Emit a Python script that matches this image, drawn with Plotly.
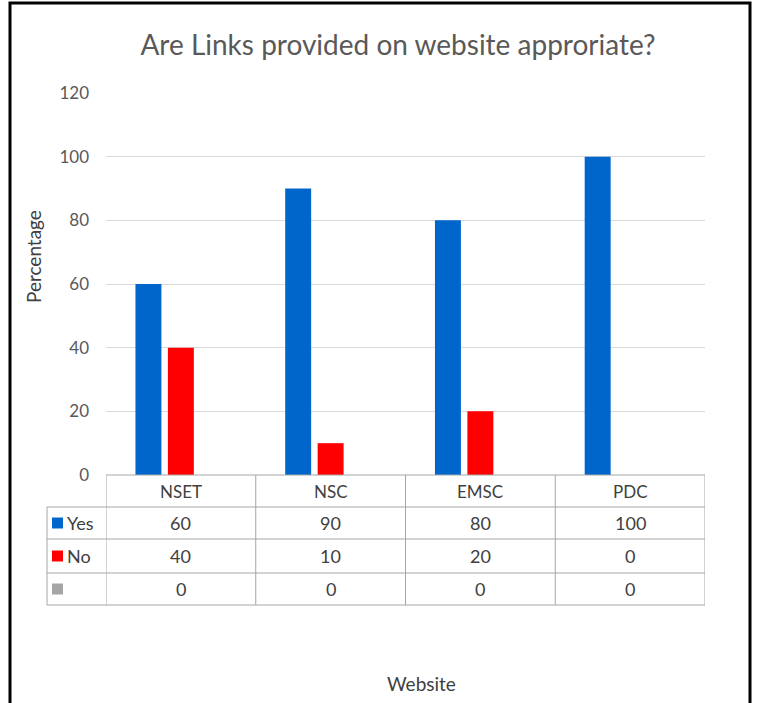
import plotly.graph_objects as go

# Data
websites = ["NSET", "NSC", "EMSC", "PDC"]
yes_pct = [60, 90, 80, 100]
no_pct = [40, 10, 20, 0]
blank_pct = [0, 0, 0, 0]
series_names = ["Yes", "No", ""]
series_colors = ["#0066cc", "#ff0000", "#a5a5a5"]
y_ticks = [0, 20, 40, 60, 80, 100, 120]

W, H = 763, 703
L, R, T, B = 106, 705, 93, 475  # plot area in pixels

def px(x):
    return (x - L) / (R - L)

def py(y):
    return (B - y) / (B - T)

FONT = "Lato"
TXT = "#404040"
GRID = "#d9d9d9"
TBL = "#a6a6a6"

fig = go.Figure()
series = [yes_pct, no_pct, blank_pct]
for name, vals, col in zip(series_names, series, series_colors):
    fig.add_trace(go.Bar(x=websites, y=vals, name=name, marker_color=col,
                         marker_line_width=0, showlegend=False))

shapes = []
annotations = []

# Data table: row boundaries in pixels
row_y = [475, 507, 539, 573, 605]
label_x0 = 47

def hline(y, x0, x1):
    shapes.append(dict(type="line", xref="paper", yref="paper",
                       x0=px(x0), x1=px(x1), y0=py(y), y1=py(y),
                       line=dict(color=TBL, width=1)))

hline(row_y[0], L, R)
for y in row_y[1:]:
    hline(y, label_x0, R)

# Vertical table lines at category boundaries
for i in range(len(websites) + 1):
    shapes.append(dict(type="line", xref="x", yref="paper",
                       x0=i - 0.5, x1=i - 0.5, y0=py(row_y[0]), y1=py(row_y[-1]),
                       line=dict(color=TBL, width=1)))
shapes.append(dict(type="line", xref="paper", yref="paper",
                   x0=px(label_x0), x1=px(label_x0), y0=py(row_y[1]), y1=py(row_y[-1]),
                   line=dict(color=TBL, width=1)))

# Column headers
for i, w in enumerate(websites):
    annotations.append(dict(x=i, y=py((row_y[0] + row_y[1]) / 2), xref="x", yref="paper",
                            xanchor="center", yanchor="middle",
                            text=w, showarrow=False, font=dict(family=FONT, size=17, color=TXT)))

# Rows: legend key, name and values
for r, (name, vals, col) in enumerate(zip(series_names, series, series_colors)):
    yc = (row_y[r + 1] + row_y[r + 2]) / 2
    shapes.append(dict(type="rect", xref="paper", yref="paper",
                       x0=px(52), x1=px(63), y0=py(yc - 5.5), y1=py(yc + 5.5),
                       fillcolor=col, line=dict(width=0)))
    if name:
        annotations.append(dict(x=px(65), y=py(yc), xref="paper", yref="paper",
                                text=name, showarrow=False, xanchor="left", yanchor="middle",
                                font=dict(family=FONT, size=18, color=TXT)))
    for i, v in enumerate(vals):
        annotations.append(dict(x=i, y=py(yc), xref="x", yref="paper",
                                xanchor="center", yanchor="middle",
                                text=str(v), showarrow=False,
                                font=dict(family=FONT, size=18, color=TXT)))

# Axis titles
annotations.append(dict(x=px(33), y=py(257), xref="paper", yref="paper",
                        xanchor="center", yanchor="middle",
                        text="Percentage", showarrow=False, textangle=-90,
                        font=dict(family=FONT, size=19, color=TXT)))
annotations.append(dict(x=px(421), y=py(683), xref="paper", yref="paper",
                        xanchor="center", yanchor="middle",
                        text="Website", showarrow=False,
                        font=dict(family=FONT, size=19, color=TXT)))

# Outer frame
shapes.append(dict(type="rect", xref="paper", yref="paper",
                   x0=px(10), x1=px(750), y0=py(3), y1=py(760),
                   line=dict(color="black", width=3)))

fig.update_layout(
    width=W, height=H,
    margin=dict(l=L, r=W - R, t=T, b=H - B, pad=0),
    paper_bgcolor="white", plot_bgcolor="white",
    title=dict(text="Are Links provided on website approriate?",
               x=398 / W, xanchor="center", y=1 - 45 / H, yanchor="middle",
               font=dict(family=FONT, size=28, color="#595959")),
    barmode="group", bargap=0.35, bargroupgap=0.2,
    xaxis=dict(showticklabels=False, showgrid=False, zeroline=False,
               showline=False, range=[-0.5, 3.5], fixedrange=True),
    yaxis=dict(range=[0, 120], tickvals=y_ticks, showgrid=True, gridcolor=GRID,
               gridwidth=1, zeroline=False, showline=False, ticks="",
               ticklabelstandoff=16,
               tickfont=dict(family=FONT, size=17, color="#595959")),
    shapes=shapes, annotations=annotations,
)

fig.write_html("out.html")
